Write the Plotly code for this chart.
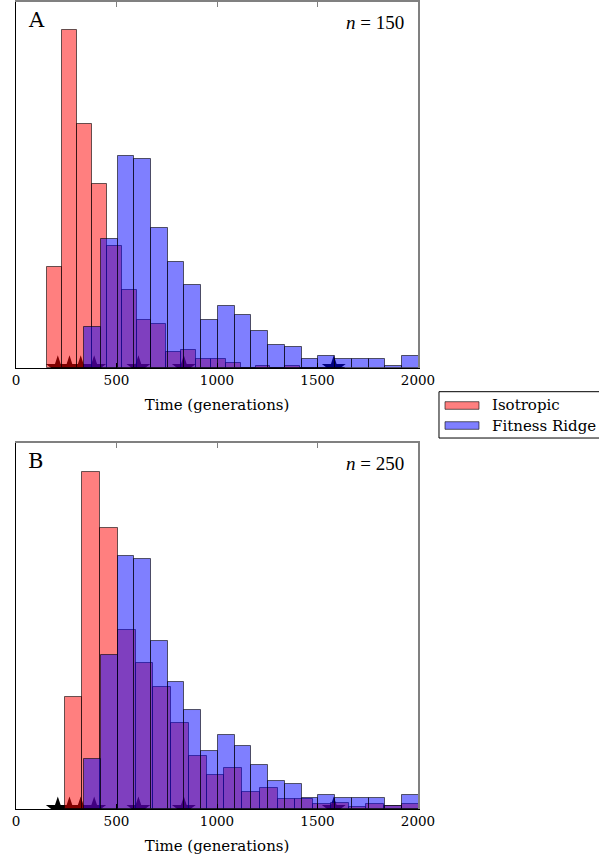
import numpy as np
import plotly.graph_objects as go

# ---- data -------------------------------------------------------------
# bin edges (generations) and bar heights (counts) for each histogram
iso_edges_a = [156, 230, 304, 378, 452, 526, 600, 674, 748, 822, 896,
               970, 1044, 1118, 1192, 1266, 1340, 1414, 1488, 1562, 1636]
iso_counts_a = [44, 147, 106, 80, 53, 34, 21, 19, 7, 8,
                4, 4, 2, 0, 1, 0, 1, 0, 0, 0]

iso_edges_b = [242, 330, 419, 507, 595, 684, 772, 860, 948, 1037, 1125,
               1213, 1302, 1390, 1478, 1566, 1655, 1743, 1831, 1920, 2008]
iso_counts_b = [40.7, 122.7, 102.3, 65.1, 53.0, 44.4, 31.2, 19.4, 12.4, 15.0,
                6.1, 7.5, 3.5, 3.5, 1.9, 2.1, 0.6, 1.9, 1.2, 1.9]

ridge_edges = [338, 421, 505, 588, 671, 755, 838, 921, 1004, 1088, 1171,
               1254, 1338, 1421, 1504, 1588, 1671, 1754, 1837, 1921, 2004]
ridge_counts = [18, 56, 92, 91, 61, 46, 36, 21, 27, 23,
                16, 10, 9, 4, 5, 4, 4, 4, 1, 5]

# individual reference times marked along the axis
star_times = [208, 266, 322, 389, 609, 835, 1581]

panel_labels = ["A", "B"]
panel_n = [150, 250]
series_names = ["Isotropic", "Fitness Ridge"]
x_ticks = [0, 500, 1000, 1500, 2000]
y_top = [159.1, 133.1]

# ---- styling ----------------------------------------------------------
RED = "rgba(255,0,0,0.5)"
BLUE = "rgba(0,0,255,0.5)"
EDGE = "rgba(0,0,0,0.6)"
SERIF = "DejaVu Serif"


def bars(edges, counts, color, name, xa, ya):
    e = np.asarray(edges, dtype=float)
    return go.Bar(
        x=(e[:-1] + e[1:]) / 2, y=counts, width=np.diff(e),
        marker=dict(color=color, line=dict(color=EDGE, width=1)),
        name=name, xaxis=xa, yaxis=ya, showlegend=False,
    )


fig = go.Figure()

# stars sit in the base subplots so the translucent bars cover them
for xa, ya in (("x", "y"), ("x2", "y2")):
    fig.add_trace(go.Scatter(
        x=star_times, y=[0] * len(star_times), mode="markers",
        marker=dict(symbol="star", size=18, color="black"),
        xaxis=xa, yaxis=ya, showlegend=False, cliponaxis=True,
    ))

# histograms live in overlaid subplots drawn on top
fig.add_trace(bars(iso_edges_a, iso_counts_a, RED, series_names[0], "x3", "y3"))
fig.add_trace(bars(ridge_edges, ridge_counts, BLUE, series_names[1], "x3", "y3"))
fig.add_trace(bars(iso_edges_b, iso_counts_b, RED, series_names[0], "x4", "y4"))
fig.add_trace(bars(ridge_edges, ridge_counts, BLUE, series_names[1], "x4", "y4"))

dom_a = [0.5465, 1.0]
dom_b = [0.0, 0.4535]

base_x = dict(range=[0, 2000], showgrid=False, zeroline=False,
              showline=True, linecolor="black", linewidth=1,
              ticks="inside", ticklen=5, tickcolor="black",
              tickvals=x_ticks, ticktext=[str(t) for t in x_ticks],
              tickfont=dict(family=SERIF, size=13.5, color="black"),
              title=dict(text="Time (generations)", standoff=12,
                         font=dict(family=SERIF, size=15, color="black")))
base_y = dict(showgrid=False, zeroline=False, showticklabels=False,
              showline=True, linecolor="black", linewidth=1, ticks="")
top_x = dict(range=[0, 2000], side="top", showgrid=False,
             zeroline=False, showline=True, linecolor="#808080", linewidth=1.5,
             ticks="inside", ticklen=5, tickcolor="#808080",
             tickvals=x_ticks, showticklabels=False)
right_y = dict(side="right", showgrid=False, zeroline=False,
               showticklabels=False, showline=True, linecolor="#808080",
               linewidth=1.5, ticks="")

fig.update_layout(
    width=599, height=858,
    margin=dict(l=16, r=181, t=2, b=49),
    paper_bgcolor="white", plot_bgcolor="white",
    barmode="overlay", bargap=0,
    xaxis=dict(base_x, domain=[0, 1], anchor="y"),
    yaxis=dict(base_y, domain=dom_a, anchor="x", range=[0, y_top[0]]),
    xaxis2=dict(base_x, domain=[0, 1], anchor="y2"),
    yaxis2=dict(base_y, domain=dom_b, anchor="x2", range=[0, y_top[1]]),
    xaxis3=dict(top_x, overlaying="x", anchor="y3"),
    yaxis3=dict(right_y, overlaying="y", anchor="x3", range=[0, y_top[0]]),
    xaxis4=dict(top_x, overlaying="x2", anchor="y4"),
    yaxis4=dict(right_y, overlaying="y2", anchor="x4", range=[0, y_top[1]]),
)

# panel letters and sample sizes
for i, (xr, yr) in enumerate((("x domain", "y domain"), ("x2 domain", "y2 domain"))):
    fig.add_annotation(x=0.025, y=0.95, xref=xr, yref=yr, text=panel_labels[i],
                       showarrow=False, xanchor="left", yanchor="middle",
                       font=dict(family=SERIF, size=21, color="black"))
    fig.add_annotation(x=0.97, y=0.945, xref=xr, yref=yr,
                       text=f"<i>n</i> = {panel_n[i]}", showarrow=False,
                       xanchor="right", yanchor="middle",
                       font=dict(family="Liberation Serif", size=19, color="black"))

# legend box between the panels
fig.add_shape(type="rect", xref="paper", yref="paper",
              x0=1.0522, x1=1.47, y0=0.4597, y1=0.5171,
              line=dict(color="black", width=1), fillcolor="white")
for color, y0, y1, yt, name in ((RED, 0.4953, 0.5047, 0.5002, series_names[0]),
                                (BLUE, 0.4705, 0.4799, 0.4752, series_names[1])):
    fig.add_shape(type="rect", xref="paper", yref="paper",
                  x0=1.0672, x1=1.1517, y0=y0, y1=y1,
                  line=dict(color=EDGE, width=1), fillcolor=color)
    fig.add_annotation(x=1.179, y=yt, xref="paper", yref="paper", text=name,
                       showarrow=False, xanchor="left", yanchor="middle",
                       font=dict(family=SERIF, size=15, color="black"))

fig.write_html("out.html")
